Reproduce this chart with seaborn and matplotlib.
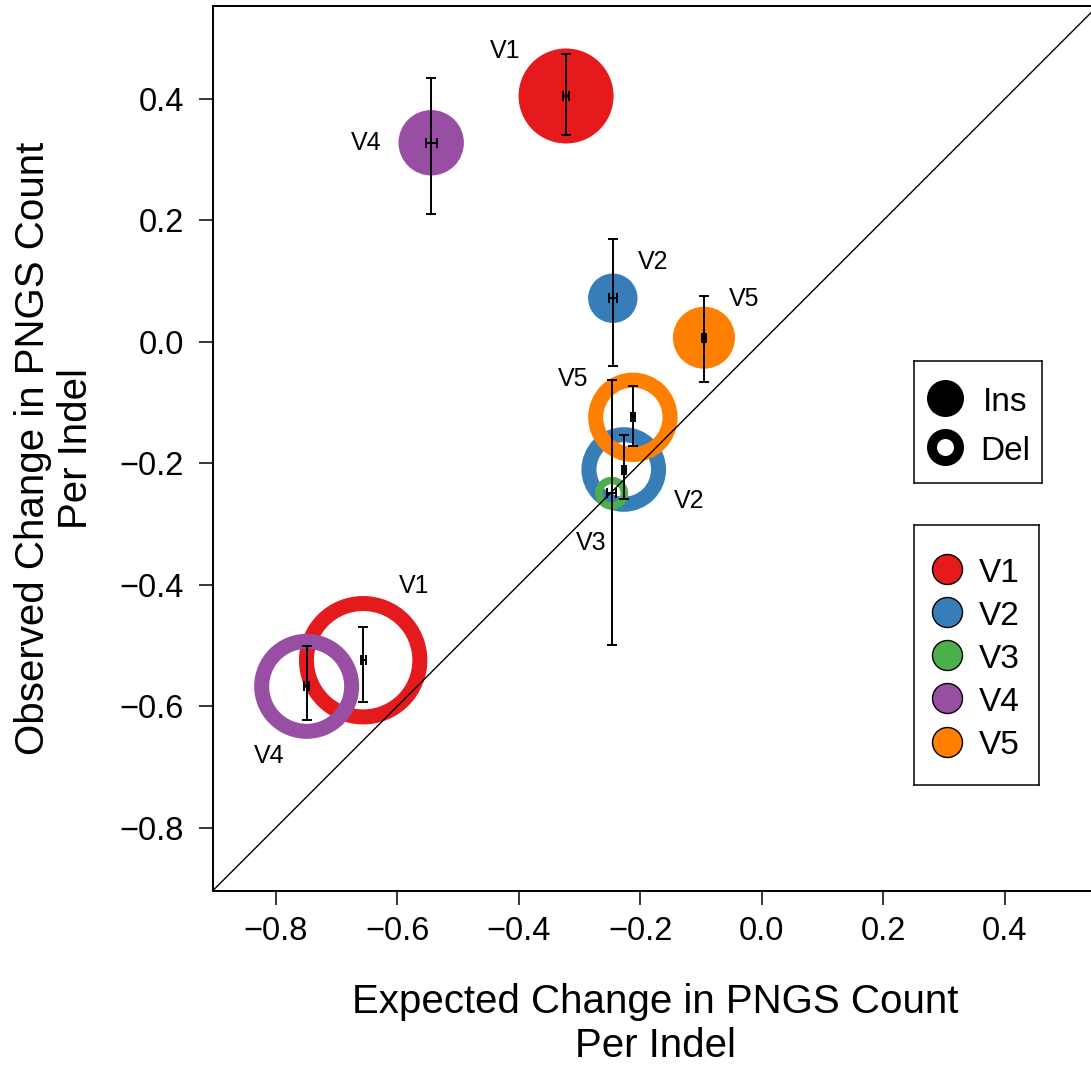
import matplotlib
matplotlib.use("Agg")
import matplotlib.pyplot as plt
import seaborn as sns
import pandas as pd

# ---- data -------------------------------------------------------------
regions = ["V1", "V2", "V3", "V4", "V5"]
region_colors = ["#E41A1C", "#377EB8", "#4DAF4A", "#984EA3", "#FF7F00"]

# insertions (no V3 insertions)
ins_region = ["V1", "V2", "V4", "V5"]
ins_expected = [-0.322, -0.245, -0.544, -0.095]
ins_expected_err = [0.005, 0.007, 0.009, 0.003]
ins_observed = [0.405, 0.072, 0.328, 0.007]
ins_observed_lo = [0.341, -0.040, 0.211, -0.066]
ins_observed_hi = [0.474, 0.170, 0.434, 0.076]

# deletions
del_region = ["V1", "V2", "V3", "V4", "V5"]
del_expected = [-0.656, -0.227, -0.247, -0.749, -0.212]
del_expected_err = [0.004, 0.003, 0.007, 0.004, 0.003]
del_observed = [-0.524, -0.210, -0.249, -0.567, -0.124]
del_observed_lo = [-0.592, -0.258, -0.499, -0.623, -0.172]
del_observed_hi = [-0.469, -0.154, -0.062, -0.501, -0.073]

# bubble radius (pixels) and ring thickness (pixels)
ins_radius = [47.5, 24.7, 32.7, 31.0]
del_radius = [64.2, 42.3, 16.5, 52.5, 44.7]
del_ring = [15, 15, 7.5, 15, 15]

# label offsets in pixels (dx, dy with y up)
ins_label_off = [(-61, 45), (40, 36), (-65, 0), (40, 39)]
del_label_off = [(51, 74), (65, -31), (-20, -50), (-37, -70), (-60, 38)]

ticks = [-0.8, -0.6, -0.4, -0.2, 0.0, 0.2, 0.4]
lims = (-0.904, 0.554)

# ---- style ------------------------------------------------------------
sns.set_style("ticks")
plt.rcParams["font.family"] = ["Liberation Sans", "DejaVu Sans"]
plt.rcParams.update({
    "axes.unicode_minus": True,
    "text.color": "black",
    "axes.labelcolor": "black",
    "xtick.color": "black",
    "ytick.color": "black",
})

W, H, DPI = 1091, 1065, 100
PT = 72.0 / DPI  # points per pixel

fig = plt.figure(figsize=(W / DPI, H / DPI), dpi=DPI)
ax = fig.add_axes([212.5 / W, (H - 891) / H, 885.7 / W, 885.5 / H])

palette = dict(zip(regions, region_colors))

ins_df = pd.DataFrame({"region": ins_region, "expected": ins_expected,
                       "observed": ins_observed})
del_df = pd.DataFrame({"region": del_region, "expected": del_expected,
                       "observed": del_observed})

# filled bubbles: insertions
sns.scatterplot(data=ins_df, x="expected", y="observed", hue="region",
                palette=palette, s=[(2 * r * PT) ** 2 for r in ins_radius],
                linewidth=0, legend=False, ax=ax, zorder=2)

# open rings: deletions
sns.scatterplot(data=del_df, x="expected", y="observed", hue="region",
                palette=palette,
                s=[((2 * r - t) * PT) ** 2 for r, t in zip(del_radius, del_ring)],
                linewidth=[t * PT for t in del_ring], legend=False, ax=ax,
                zorder=2)
rings = ax.collections[-1]
rings.set_edgecolors(rings.get_facecolors())
rings.set_facecolors("none")

# identity line
ax.axline((0, 0), slope=1, color="black", lw=1.0, zorder=3)

# error bars
for xs, xe, ys, lo, hi in [
    (ins_expected, ins_expected_err, ins_observed, ins_observed_lo, ins_observed_hi),
    (del_expected, del_expected_err, del_observed, del_observed_lo, del_observed_hi),
]:
    yerr = [[y - l for y, l in zip(ys, lo)], [h - y for y, h in zip(ys, hi)]]
    ax.errorbar(xs, ys, xerr=xe, yerr=yerr, fmt="none", ecolor="black",
                elinewidth=1.4, capsize=3.6, capthick=1.4, zorder=4)

# region labels
for reg, x, y, off in zip(ins_region, ins_expected, ins_observed, ins_label_off):
    ax.annotate(reg, (x, y), xytext=off, textcoords="offset pixels",
                ha="center", va="center", fontsize=18, zorder=5)
for reg, x, y, off in zip(del_region, del_expected, del_observed, del_label_off):
    ax.annotate(reg, (x, y), xytext=off, textcoords="offset pixels",
                ha="center", va="center", fontsize=18, zorder=5)

ax.set_xlim(*lims)
ax.set_ylim(*lims)
ax.set_xticks(ticks)
ax.set_yticks(ticks)
ax.set_xticklabels([f"{t:.1f}".replace("-", "\u2212") for t in ticks])
ax.set_yticklabels([f"{t:.1f}".replace("-", "\u2212") for t in ticks])
ax.tick_params(axis="both", direction="out", length=10, width=1.1,
               labelsize=23.5)
ax.tick_params(axis="x", pad=8)
ax.tick_params(axis="y", pad=10.5)
for sp in ax.spines.values():
    sp.set_visible(True)
    sp.set_color("black")
    sp.set_linewidth(1.4)

ax.set_xlabel("Expected Change in PNGS Count\nPer Indel", fontsize=29,
              labelpad=26, linespacing=1.2)
ax.set_ylabel("Observed Change in PNGS Count\nPer Indel", fontsize=29,
              labelpad=18, linespacing=1.15)


# ---- legends (boxed keys in pixel layout) -------------------------------
def key_box(x0, y0, x1, y1):
    lax = fig.add_axes([x0 / W, 1 - y1 / H, (x1 - x0) / W, (y1 - y0) / H])
    lax.set_xlim(x0, x1)
    lax.set_ylim(y1, y0)
    lax.set_xticks([])
    lax.set_yticks([])
    lax.set_facecolor("white")
    for sp in lax.spines.values():
        sp.set_visible(True)
        sp.set_color("black")
        sp.set_linewidth(1.1)
    return lax


# indel type key
k1 = key_box(914, 361, 1042, 483)
k1.scatter([944.7], [397.7], s=(37 * PT) ** 2, c="black", linewidths=0)
k1.scatter([944.7], [446.7], s=(27 * PT) ** 2, facecolors="white",
           edgecolors="black", linewidths=10 * PT)
k1.text(983, 397.7 + 13, "Ins", fontsize=24, va="baseline", ha="left")
k1.text(980, 446.7 + 13, "Del", fontsize=24, va="baseline", ha="left")

# region colour key
k2 = key_box(914, 525, 1039, 785)
for i, (reg, col) in enumerate(zip(regions, region_colors)):
    yc = 568.7 + i * 43.2
    k2.scatter([946.7], [yc], s=(30 * PT) ** 2, c=col, edgecolors="black",
               linewidths=1.0)
    k2.text(979, yc + 13, reg, fontsize=24, va="baseline", ha="left")

fig.savefig("out.png", dpi=DPI)
